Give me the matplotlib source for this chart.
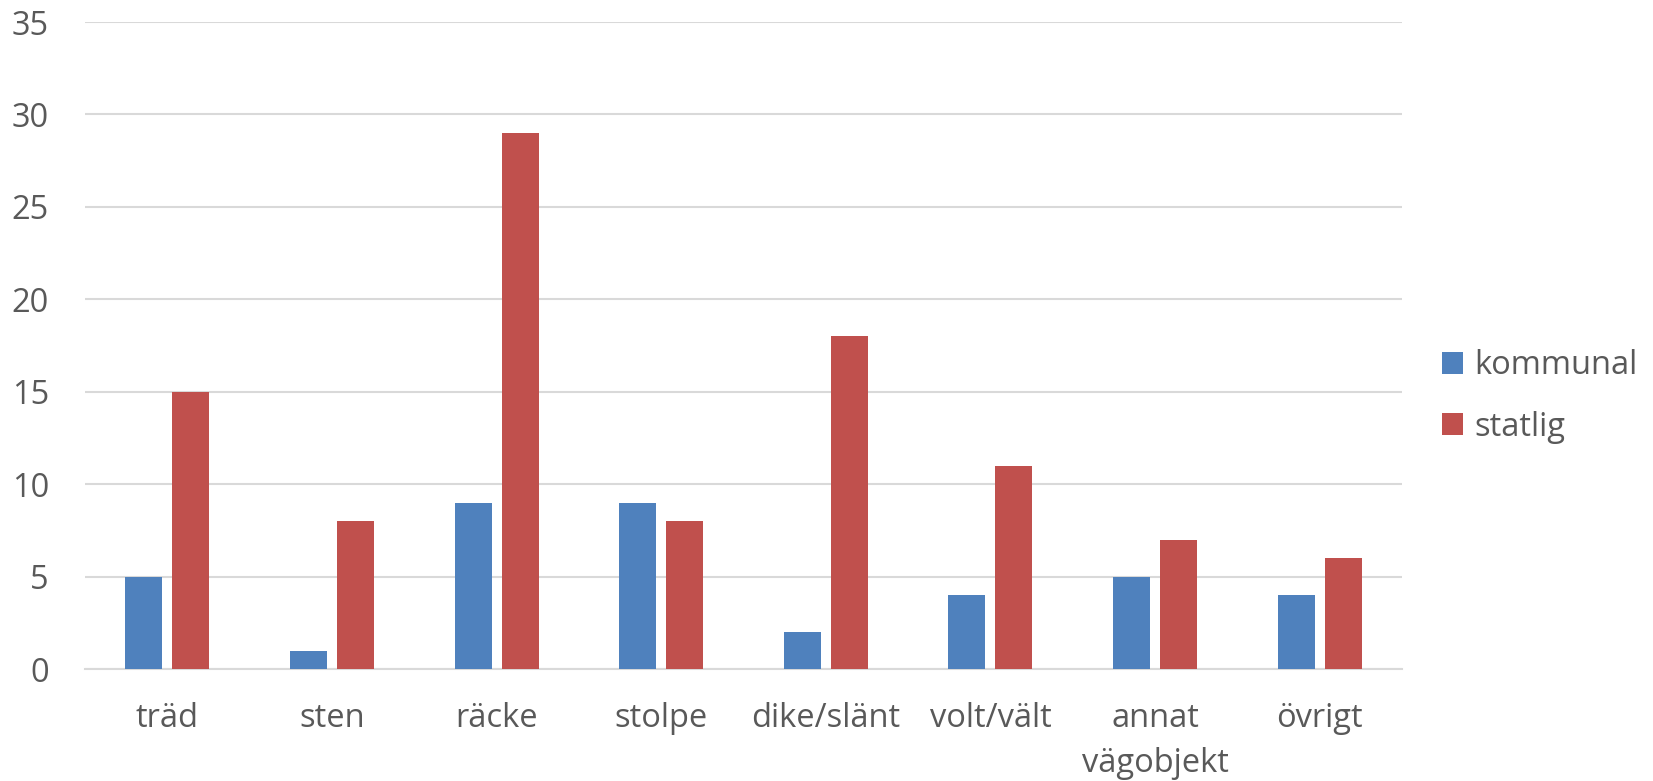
import numpy as np
import matplotlib.pyplot as plt

# categories and counts
categories = ["träd", "sten", "räcke", "stolpe", "dike/slänt", "volt/vält", "annat\nvägobjekt", "övrigt"]
kommunal = [5, 1, 9, 9, 2, 4, 5, 4]
statlig = [15, 8, 29, 8, 18, 11, 7, 6]
yticks = [0, 5, 10, 15, 20, 25, 30, 35]

plt.rcParams['font.family'] = ['Open Sans', 'DejaVu Sans']
txt = "#595959"
fs = 23.5

fig = plt.figure(figsize=(16.53, 7.81), dpi=100)
ax = fig.add_axes([85/1653, 1 - 669/781, (1402-85)/1653, (669-22)/781])

x = np.arange(len(categories))
w = 0.225
ax.bar(x - 0.143, kommunal, w, color="#4f81bd", label="kommunal", zorder=3)
ax.bar(x + 0.143, statlig, w, color="#c0504d", label="statlig", zorder=3)

ax.set_xlim(-0.5, len(categories) - 0.5)
ax.set_ylim(0, 35)
ax.set_yticks(yticks)
ax.set_xticks(x)
ax.set_xticklabels(categories, linespacing=1.45)
ax.grid(axis="y", color="#d9d9d9", linewidth=1.5, zorder=0)
for s in ["top", "right", "left"]:
    ax.spines[s].set_visible(False)
ax.spines["bottom"].set_color("#d9d9d9")
ax.spines["bottom"].set_linewidth(1.5)
ax.tick_params(axis="both", length=0, labelsize=fs, labelcolor=txt)
ax.tick_params(axis="y", pad=26)
ax.tick_params(axis="x", pad=24)

ax.legend(loc="center left", bbox_to_anchor=(1.008, 0.421), frameon=False,
          fontsize=fs, labelcolor=txt, handlelength=0.65, handleheight=0.65,
          handletextpad=0.35, labelspacing=0.87)

fig.savefig("out.png", dpi=100)
